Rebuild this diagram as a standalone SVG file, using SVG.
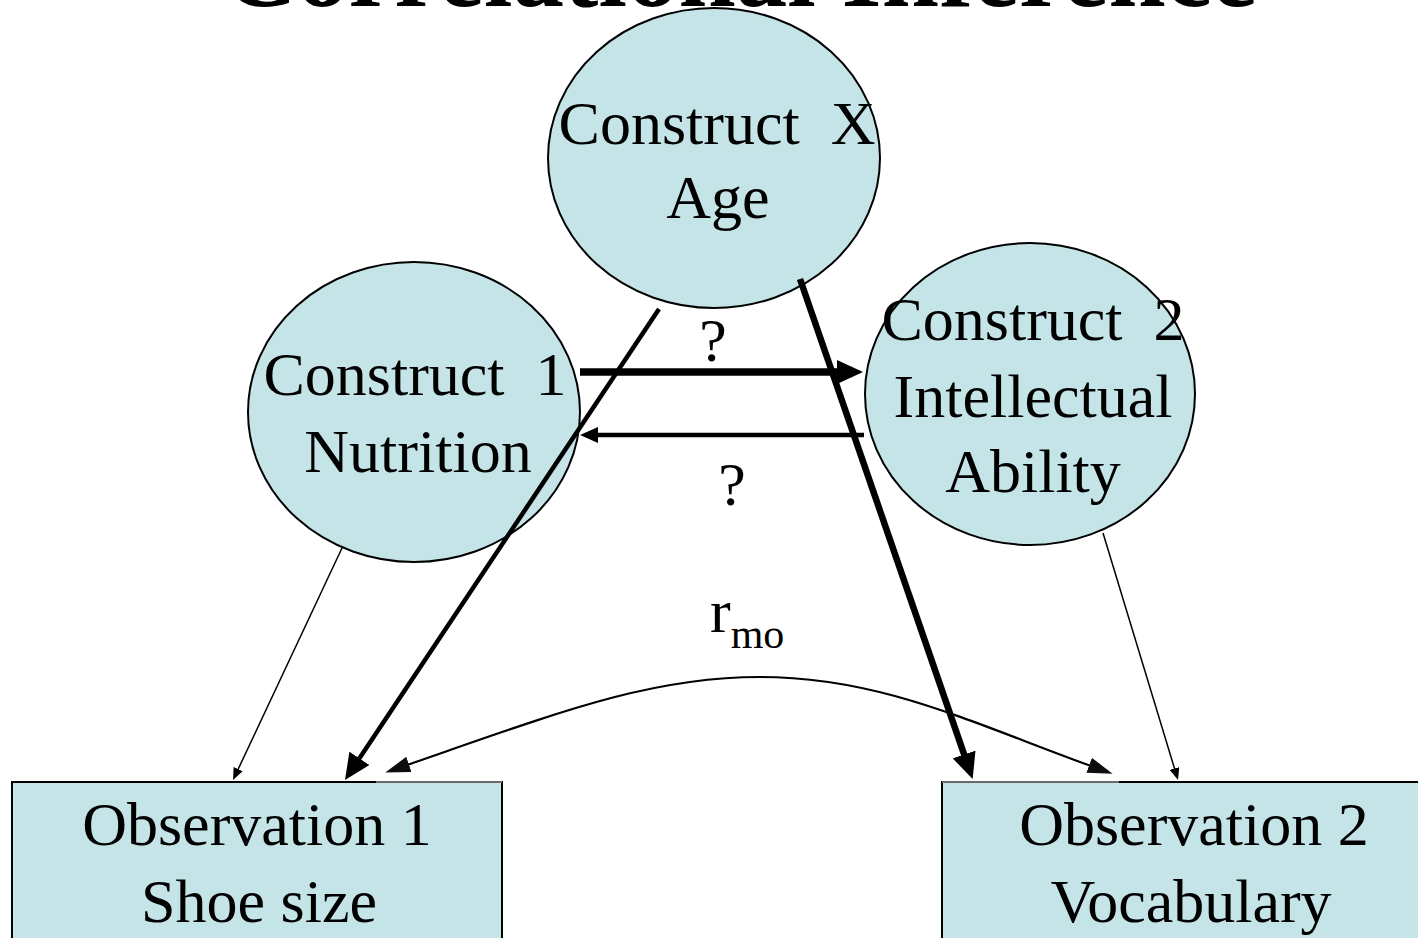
<svg xmlns="http://www.w3.org/2000/svg" width="1418" height="938" viewBox="0 0 1418 938">
  <style>
    .node { fill: #C4E4E8; stroke: #000; stroke-width: 2; }
    .lbl { font-family: "Liberation Serif", "Times New Roman", serif; font-size: 62px; fill: #000; text-anchor: middle; }
    .lbl-start { text-anchor: start; }
    .title { font-family: "Liberation Serif", "Times New Roman", serif; font-size: 103px; font-weight: bold; fill: #000; text-anchor: middle; }
    .edge { stroke: #000; fill: none; stroke-linecap: butt; }
  </style>
  <defs>
    <marker id="head-small" markerUnits="userSpaceOnUse" markerWidth="14" markerHeight="10" refX="2" refY="5" orient="auto">
      <path d="M0,0 L12,5 L0,10 z" fill="#000"/>
    </marker>
    <marker id="head-mid" markerUnits="userSpaceOnUse" markerWidth="20" markerHeight="16" refX="2" refY="8" orient="auto">
      <path d="M0,0 L18,8 L0,16 z" fill="#000"/>
    </marker>
    <marker id="head-big" markerUnits="userSpaceOnUse" markerWidth="28" markerHeight="24" refX="2" refY="12" orient="auto">
      <path d="M0,0 L26,12 L0,24 z" fill="#000"/>
    </marker>
    <marker id="head-curve" markerUnits="userSpaceOnUse" markerWidth="26" markerHeight="16" refX="2" refY="8" orient="auto-start-reverse">
      <path d="M0,0 L25,8 L0,16 z" fill="#111"/>
    </marker>
    <filter id="soft" x="-5%" y="-20%" width="110%" height="140%">
      <feGaussianBlur stdDeviation="0.5"/>
    </filter>
  </defs>

  <rect width="1418" height="938" fill="#fff"/>

  <!-- heading, mostly above the top edge -->
  <text class="title" x="740" y="6">Correlational Inference</text>

  <!-- observation boxes -->
  <g id="obs1">
    <rect class="node" x="12" y="782" width="490" height="180"/>
    <line x1="376" y1="782" x2="502" y2="782" stroke="#6a6a6a" stroke-width="2"/>
    <text class="lbl" x="257" y="845">Observation 1</text>
    <text class="lbl" x="259" y="922">Shoe size</text>
  </g>
  <g id="obs2">
    <rect class="node" x="942" y="782" width="500" height="180"/>
    <line x1="942" y1="782" x2="1119" y2="782" stroke="#6a6a6a" stroke-width="2"/>
    <text class="lbl" x="1194" y="845">Observation 2</text>
    <text class="lbl" x="1191" y="922">Vocabulary</text>
  </g>

  <!-- constructs -->
  <g id="constructX">
    <ellipse class="node" cx="714" cy="158" rx="166" ry="150"/>
    <text class="lbl" x="717" y="144" xml:space="preserve">Construct  X</text>
    <text class="lbl" x="718" y="218">Age</text>
  </g>
  <g id="construct1">
    <ellipse class="node" cx="414" cy="412" rx="166" ry="150"/>
    <text class="lbl" x="415" y="395" xml:space="preserve">Construct  1</text>
    <text class="lbl" x="418" y="472">Nutrition</text>
  </g>
  <g id="construct2">
    <ellipse class="node" cx="1030" cy="394" rx="165" ry="151"/>
    <text class="lbl" x="1033" y="340" xml:space="preserve">Construct  2</text>
    <text class="lbl" x="1033" y="417">Intellectual</text>
    <text class="lbl" x="1033" y="492">Ability</text>
  </g>

  <!-- connectors -->
  <g id="connectors">
    <line class="edge" x1="342" y1="548" x2="237.3" y2="771" stroke-width="1.5" marker-end="url(#head-small)"/>
    <line class="edge" x1="659" y1="309" x2="358.3" y2="760" stroke-width="4.5" marker-end="url(#head-big)"/>
    <line class="edge" x1="580" y1="372" x2="839" y2="372" stroke-width="7.5" marker-end="url(#head-big)"/>
    <line class="edge" x1="864" y1="435" x2="596" y2="435" stroke-width="4.5" marker-end="url(#head-mid)"/>
    <line class="edge" x1="800" y1="279" x2="964.8" y2="756.4" stroke-width="6.5" marker-end="url(#head-big)"/>
    <line class="edge" x1="1103" y1="533" x2="1175.1" y2="770.4" stroke-width="1.5" marker-end="url(#head-small)"/>
    <path class="edge" d="M407,765 C560,712 650,677 760,677 C880,677 970,722 1091,766" stroke="#1a1a1a" stroke-width="2.2" filter="url(#soft)" marker-start="url(#head-curve)" marker-end="url(#head-curve)"/>
  </g>

  <!-- edge labels -->
  <g id="edge-labels">
    <text class="lbl" x="713" y="361">?</text>
    <text class="lbl" x="732" y="505">?</text>
    <text class="lbl lbl-start" x="710" y="632">r<tspan font-size="42" dy="16">mo</tspan></text>
  </g>
</svg>
